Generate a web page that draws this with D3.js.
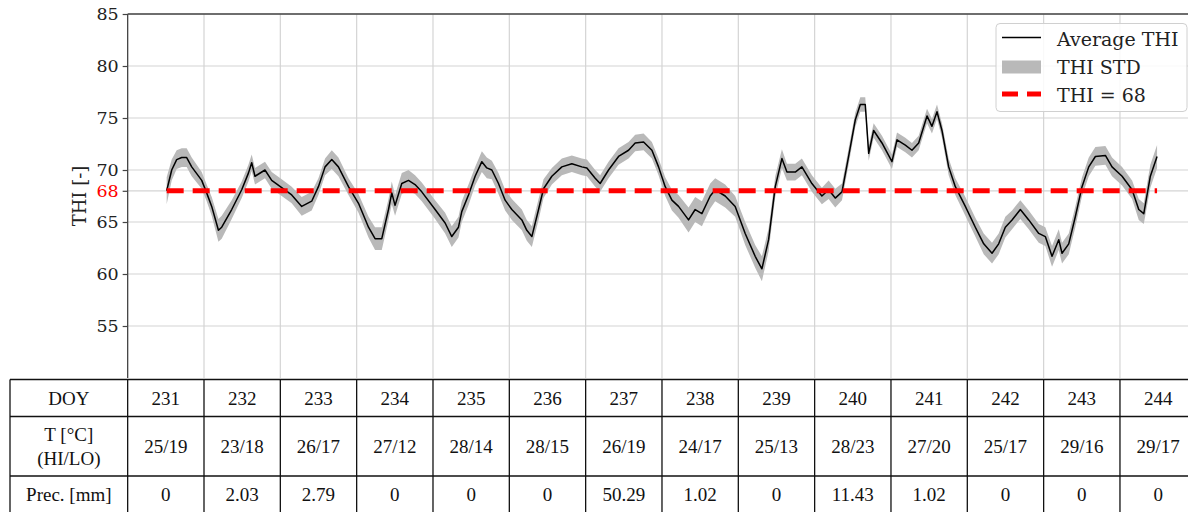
<!DOCTYPE html>
<html>
<head>
<meta charset="utf-8">
<script src="https://cdn.jsdelivr.net/npm/d3@7"></script>
<style>
  html, body { margin: 0; padding: 0; background: #fff; }
  svg { display: block; }
</style>
</head>
<body>
<div id="chart"></div>
<script>
// Samples of the average THI (day of year, fractional)
const doy = [
  231.511, 231.577, 231.642, 231.708, 231.773, 231.839, 231.970, 232.035, 232.101, 232.189,
  232.232, 232.363, 232.494, 232.582, 232.625, 232.668, 232.799, 232.887, 233.018, 233.149,
  233.280, 233.411, 233.499, 233.586, 233.674, 233.761, 233.893, 234.024, 234.155, 234.241,
  234.329, 234.417, 234.460, 234.503, 234.591, 234.679, 234.765, 234.853, 235.028, 235.159,
  235.246, 235.334,
  235.377, 235.465, 235.552, 235.640, 235.705, 235.771, 235.858, 235.945, 236.033, 236.164,
  236.229, 236.295, 236.383, 236.448, 236.557, 236.688, 236.819, 236.950, 237.016, 237.125,
  237.190, 237.300, 237.431, 237.562, 237.649, 237.759, 237.868, 237.955, 238.042, 238.130,
  238.217, 238.348, 238.435, 238.523, 238.632, 238.697, 238.828, 238.959, 239.090, 239.221,
  239.309, 239.397, 239.484, 239.571, 239.637, 239.746, 239.833,
  239.964, 240.095, 240.183, 240.270, 240.358, 240.445, 240.532, 240.598, 240.663, 240.708,
  240.773, 240.882, 241.013, 241.079, 241.188, 241.275, 241.363, 241.472, 241.537, 241.603,
  241.668, 241.756, 241.843, 241.974, 242.105, 242.215, 242.324, 242.411, 242.498, 242.586,
  242.695, 242.805, 242.936, 243.022, 243.110, 243.198, 243.241, 243.329, 243.415, 243.503,
  243.591, 243.678, 243.809, 243.896, 244.028, 244.159, 244.246, 244.312, 244.398, 244.486
];
const thiAvg = [
  68.0, 70.0, 71.0, 71.2, 71.2, 70.3, 69.0, 67.8, 66.5, 64.2,
  64.5, 66.2, 68.1, 69.7, 70.7, 69.4, 70.0, 69.0, 68.3, 67.6,
  66.5, 67.0, 68.4, 70.3, 71.0, 70.3, 68.4, 66.8, 64.5, 63.4,
  63.4, 66.2, 67.8, 66.6, 68.7, 69.0, 68.6, 67.9, 66.2, 64.9,
  63.6, 64.5,
  66.0, 67.6, 69.4, 70.8, 70.2, 70.0, 68.7, 67.1, 66.2, 65.2,
  64.2, 63.6, 66.2, 68.2, 69.4, 70.3, 70.6, 70.3, 70.2, 69.2,
  68.7, 70.0, 71.3, 71.9, 72.6, 72.7, 71.9, 70.3, 68.4, 67.1,
  66.5, 65.2, 66.2, 65.8, 67.5, 68.1, 67.5, 66.5, 63.9, 61.7,
  60.5, 63.3, 68.4, 71.1, 69.8, 69.8, 70.3,
  68.7, 67.5, 68.1, 67.3, 67.9, 71.3, 74.8, 76.3, 76.3, 71.6,
  73.8, 72.6, 70.8, 72.9, 72.4, 71.9, 72.6, 75.2, 74.2, 75.6,
  73.8, 70.3, 68.4, 66.5, 64.5, 62.9, 62.0, 62.9, 64.5, 65.2,
  66.2, 65.2, 63.9, 63.6, 61.7, 63.3, 62.0, 62.9, 65.5, 68.4,
  70.3, 71.3, 71.4, 70.3, 69.4, 68.1, 66.2, 65.8, 69.4, 71.3
];
const thiStd = [
  1.3, 1.0, 0.9, 0.9, 0.9, 0.9, 0.8, 0.8, 0.9, 1.1,
  1.1, 0.9, 0.8, 0.8, 0.8, 0.8, 0.8, 0.8, 0.8, 0.8,
  0.9, 0.9, 0.8, 0.8, 0.9, 0.9, 0.8, 0.9, 1.0, 1.1,
  1.1, 1.0, 1.1, 1.0, 1.0, 1.0, 0.9, 0.9, 0.9, 1.0,
  1.0, 1.0,
  1.0, 1.0, 0.9, 1.0, 1.0, 0.9, 1.0, 1.0, 1.0, 1.0,
  1.0, 1.0, 1.0, 0.9, 0.8, 0.8, 0.8, 0.8, 0.8, 0.8,
  0.8, 0.8, 0.8, 0.8, 0.8, 0.8, 0.8, 0.8, 0.9, 1.0,
  1.1, 1.2, 1.2, 1.2, 1.2, 1.1, 1.1, 1.0, 1.1, 1.1,
  1.2, 1.1, 1.0, 0.9, 0.8, 0.8, 0.8,
  0.8, 0.8, 0.9, 0.9, 0.8, 0.8, 0.7, 0.7, 0.7, 0.7,
  0.7, 0.7, 0.7, 0.7, 0.7, 0.7, 0.7, 0.7, 0.7, 0.7,
  0.7, 0.8, 0.8, 0.9, 0.9, 1.0, 1.0, 1.0, 1.0, 0.9,
  0.9, 0.9, 0.9, 0.9, 1.0, 1.0, 1.0, 1.0, 1.0, 0.9,
  0.9, 0.9, 0.9, 0.9, 0.9, 0.9, 1.0, 1.0, 1.1, 1.1
];

const thiLimit = 68;
const yTicks = [55, 60, 65, 68, 70, 75, 80, 85];

// table below the plot
const tableDays = [231, 232, 233, 234, 235, 236, 237, 238, 239, 240, 241, 242, 243, 244];
const tempHiLo = ['25/19', '23/18', '26/17', '27/12', '28/14', '28/15', '26/19',
  '24/17', '25/13', '28/23', '27/20', '25/17', '29/16', '29/17'];
const precip = ['0', '2.03', '2.79', '0', '0', '0', '50.29', '1.02', '0', '11.43',
  '1.02', '0', '0', '0'];

const width = 1188, height = 512;
const serif = "'DejaVu Serif', serif";
const tableFont = "'Liberation Serif', 'Times New Roman', serif";

const svg = d3.select('#chart').append('svg')
  .attr('width', width).attr('height', height);

const x = d3.scaleLinear().domain([231, 245]).range([127.67, 1196.3]);
const y = d3.scaleLinear().domain([50, 85]).range([378, 14]);

const data = doy.map((d, i) => ({ t: d, v: thiAvg[i], s: thiStd[i] }));

// grid
const grid = svg.append('g');
grid.selectAll('.vgrid')
  .data(d3.range(232, 245))
  .enter().append('line')
  .attr('x1', d => x(d)).attr('x2', d => x(d))
  .attr('y1', y(85)).attr('y2', y(50))
  .attr('stroke', '#d4d4d4').attr('stroke-width', 1.2);
grid.selectAll('.hgrid')
  .data(yTicks)
  .enter().append('line')
  .attr('x1', x(231)).attr('x2', width)
  .attr('y1', d => y(d)).attr('y2', d => y(d))
  .attr('stroke', '#d4d4d4').attr('stroke-width', 1.2);

// std band + average line
const band = d3.area()
  .x(d => x(d.t))
  .y0(d => y(d.v - d.s))
  .y1(d => y(d.v + d.s));
svg.append('path')
  .datum(data)
  .attr('d', band)
  .attr('fill', '#b9b9b9');

const line = d3.line().x(d => x(d.t)).y(d => y(d.v));
svg.append('path')
  .datum(data)
  .attr('d', line)
  .attr('fill', 'none')
  .attr('stroke', '#000')
  .attr('stroke-width', 1.5)
  .attr('stroke-linejoin', 'round');

// THI = 68 threshold
const span = d3.extent(doy);
svg.append('line')
  .attr('x1', x(span[0])).attr('x2', x(span[1]))
  .attr('y1', y(thiLimit)).attr('y2', y(thiLimit))
  .attr('stroke', '#ff0000')
  .attr('stroke-width', 5)
  .attr('stroke-dasharray', '17,9');

// y axis
const yAxis = svg.append('g')
  .attr('transform', `translate(${x(231)},0)`)
  .call(d3.axisLeft(y).tickValues(yTicks).tickSize(5).tickPadding(4));
yAxis.select('.domain').remove();
yAxis.selectAll('line').attr('stroke', '#444').attr('stroke-width', 1.2);
yAxis.selectAll('text')
  .style('font-family', serif)
  .style('font-size', '17.5px')
  .attr('fill', d => d === thiLimit ? '#ff0000' : '#222');

// spines (left + top)
svg.append('line')
  .attr('x1', x(231)).attr('x2', x(231))
  .attr('y1', y(85)).attr('y2', y(50))
  .attr('stroke', '#444').attr('stroke-width', 1.3);
svg.append('line')
  .attr('x1', x(231)).attr('x2', width)
  .attr('y1', y(85)).attr('y2', y(85))
  .attr('stroke', '#444').attr('stroke-width', 1.3);

svg.append('text')
  .attr('transform', `translate(86,${(y(85) + y(50)) / 2}) rotate(-90)`)
  .attr('text-anchor', 'middle')
  .style('font-family', serif)
  .style('font-size', '18px')
  .attr('fill', '#222')
  .text('THI [-]');

// legend
const lg = svg.append('g').attr('transform', 'translate(996,23.5)');
lg.append('rect')
  .attr('width', 191).attr('height', 88).attr('rx', 4)
  .attr('fill', '#fff').attr('fill-opacity', 0.85)
  .attr('stroke', '#d0d0d0');
lg.append('line')
  .attr('x1', 6).attr('x2', 45).attr('y1', 14).attr('y2', 14)
  .attr('stroke', '#000').attr('stroke-width', 1.5);
lg.append('rect')
  .attr('x', 6).attr('y', 37).attr('width', 39).attr('height', 13)
  .attr('fill', '#b9b9b9');
lg.append('line')
  .attr('x1', 6).attr('x2', 45).attr('y1', 70.5).attr('y2', 70.5)
  .attr('stroke', '#ff0000').attr('stroke-width', 5)
  .attr('stroke-dasharray', '16,9');
lg.selectAll('.lbl')
  .data(['Average THI', 'THI STD', 'THI = 68'])
  .enter().append('text')
  .attr('x', 61)
  .attr('y', (d, i) => 22.5 + i * 28)
  .style('font-family', serif)
  .style('font-size', '19px')
  .attr('fill', '#222')
  .text(d => d);

// table
const rows = [379.5, 416.5, 476, 514];
const tbl = svg.append('g');
const tLeft = 10;
rows.forEach(r => {
  tbl.append('line')
    .attr('x1', tLeft).attr('x2', width)
    .attr('y1', r).attr('y2', r)
    .attr('stroke', '#111').attr('stroke-width', 1.3);
});
const colEdges = [tLeft].concat(tableDays.map(d => x(d)));
tbl.selectAll('.vcol')
  .data(colEdges)
  .enter().append('line')
  .attr('x1', d => d).attr('x2', d => d)
  .attr('y1', rows[0]).attr('y2', rows[3])
  .attr('stroke', '#111').attr('stroke-width', 1.3);

const cellText = (cx, cy, txt) => tbl.append('text')
  .attr('x', cx).attr('y', cy)
  .attr('dy', '0.35em')
  .attr('text-anchor', 'middle')
  .style('font-family', tableFont)
  .style('font-size', '19px')
  .attr('fill', '#111')
  .text(txt);

const hx = (tLeft + x(231)) / 2;
cellText(hx, 398.5, 'DOY');
cellText(hx, 434, 'T [°C]');
cellText(hx, 458, '(HI/LO)');
cellText(hx, 494, 'Prec. [mm]');

tableDays.forEach((d, i) => {
  const cx = (x(d) + x(d + 1)) / 2;
  cellText(cx, 398.5, d);
  cellText(cx, 446.5, tempHiLo[i]);
  cellText(cx, 494, precip[i]);
});
</script>
</body>
</html>
